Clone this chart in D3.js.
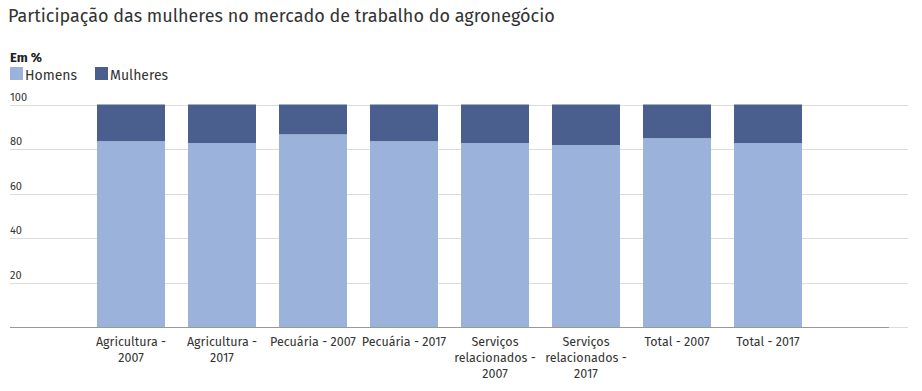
<!DOCTYPE html>
<html>
<head>
<meta charset="utf-8">
<script src="https://cdn.jsdelivr.net/npm/d3@7"></script>
<style>
  body { margin: 0; background: #fff; font-family: "Fira Sans", "Open Sans", sans-serif; }
</style>
</head>
<body>
<div id="chart"></div>
<script>
(() => {

  let categories = [
    ["Agricultura -", "2007"],
    ["Agricultura -", "2017"],
    ["Pecuária - 2007"],
    ["Pecuária - 2017"],
    ["Serviços", "relacionados -", "2007"],
    ["Serviços", "relacionados -", "2017"],
    ["Total - 2007"],
    ["Total - 2017"]
  ]
  let homens = [83.5, 82.7, 86.6, 83.5, 82.7, 81.8, 84.9, 82.7]
  let mulheres = homens.map(h => 100 - h)
  let yTicks = [20, 40, 60, 80, 100]
  let series = ["Homens", "Mulheres"]
  let colors = ["#9bb2da", "#4a5f8e"]

  let svg = d3.select("#chart")
  .append("svg")
  .attr("width", 922)
  .attr("height", 391)

  let keys = categories.map((c, i) => i)

  let x = d3.scaleBand()
  .domain(keys)
  .range([85.5, 813.5])
  .paddingInner(0.2527)
  .paddingOuter(0.1264)

  let y = d3.scaleLinear()
  .domain([0, 100])
  .range([327, 104.5])

  // Title
  svg.append("text")
  .attr("x", 8)
  .attr("y", 22)
  .text("Participação das mulheres no mercado de trabalho do agronegócio")
  .style("font-size", "18px")
  .style("fill", "#333")

  svg.append("text")
  .attr("x", 10)
  .attr("y", 62)
  .text("Em %")
  .attr("font-weight", "bold")
  .style("font-size", "13px")
  .style("fill", "#222")

  // Legend
  let legendX = [10, 95]
  series.forEach((s, i) => {
    svg.append("rect")
    .attr("x", legendX[i])
    .attr("y", 67)
    .attr("width", 13)
    .attr("height", 13)
    .attr("fill", colors[i])
    svg.append("text")
    .attr("x", legendX[i] + 15)
    .attr("y", 80)
    .text(s)
    .style("font-size", "14px")
    .style("fill", "#333")
  })

  // Grid
  let grid = svg.append("g")
  grid.selectAll("line")
  .data(yTicks)
  .enter()
  .append("line")
  .attr("x1", 10)
  .attr("x2", 908)
  .attr("y1", d => Math.round(y(d)) + 0.5)
  .attr("y2", d => Math.round(y(d)) + 0.5)
  .attr("stroke", "#dcdcdc")
  .attr("stroke-width", 1)

  grid.selectAll("text")
  .data(yTicks)
  .enter()
  .append("text")
  .attr("x", 10)
  .attr("y", d => y(d) - 4)
  .text(d => d)
  .style("font-size", "11px")
  .style("fill", "#333")

  // Bars
  let bars = svg.selectAll(".bar")
  .data(keys)
  .enter()
  .append("g")

  bars.append("rect")
  .attr("x", d => x(d))
  .attr("y", d => y(homens[d]))
  .attr("width", x.bandwidth())
  .attr("height", d => y(0) - y(homens[d]))
  .attr("fill", colors[0])

  bars.append("rect")
  .attr("x", d => x(d))
  .attr("y", d => y(homens[d] + mulheres[d]))
  .attr("width", x.bandwidth())
  .attr("height", d => y(homens[d]) - y(homens[d] + mulheres[d]))
  .attr("fill", colors[1])

  // Baseline
  svg.append("line")
  .attr("x1", 10)
  .attr("x2", 908)
  .attr("y1", 327.5)
  .attr("y2", 327.5)
  .attr("stroke", "#dcdcdc")
  svg.append("line")
  .attr("x1", 10)
  .attr("x2", 889)
  .attr("y1", 327.5)
  .attr("y2", 327.5)
  .attr("stroke", "#999")

  // Category labels
  let labels = svg.selectAll(".label")
  .data(keys)
  .enter()
  .append("text")
  .attr("x", d => x(d) + x.bandwidth() / 2)
  .attr("y", 346)
  .style("text-anchor", "middle")
  .style("font-size", "12.5px")
  .style("fill", "#333")

  labels.selectAll("tspan")
  .data(d => categories[d])
  .enter()
  .append("tspan")
  .attr("x", function() { return d3.select(this.parentNode).attr("x") })
  .attr("dy", (d, i) => i === 0 ? 0 : 16)
  .text(d => d)

})()
</script>
</body>
</html>
